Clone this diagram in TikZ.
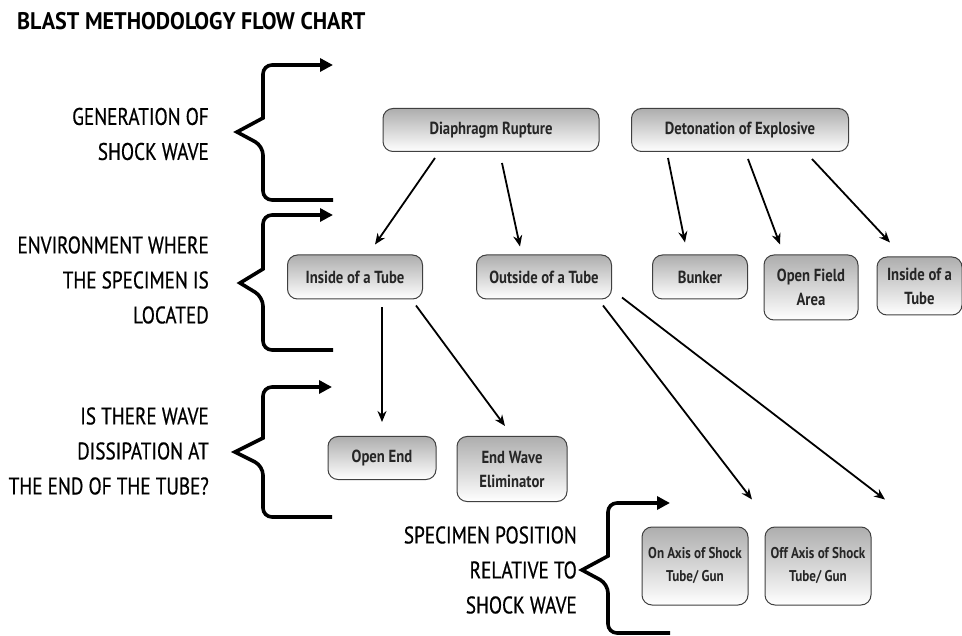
\documentclass[tikz,border=0pt]{standalone}
\usepackage{fontspec}
\setmainfont{PT Sans}
\newfontfamily\condfont[FakeStretch=0.8,FakeBold=0.6]{PT Sans}
\newfontfamily\boxfont[FakeStretch=0.84]{PT Sans Bold}
\newfontfamily\titlefont[FakeStretch=0.92]{PT Sans Bold}
\usetikzlibrary{arrows.meta}

\tikzset{
  box/.style={draw=black!75, line width=1pt, rounded corners=10pt,
    top color=black!32, bottom color=white, inner sep=0pt, align=center,
    text=black!85, font=\boxfont\fontsize{17.5}{24}\selectfont},
  smallbox/.style={box, font=\boxfont\fontsize{15.6}{23}\selectfont},
  flow/.style={line width=1.8pt, -{Stealth[length=11pt,width=9pt]}},
  brace/.style={line width=3.6pt, line join=miter,
    -{Triangle[length=13pt,width=13pt]}},
  label/.style={anchor=east, align=right, inner sep=0pt,
    font=\condfont\fontsize{24}{35}\selectfont}
}

\begin{document}
\begin{tikzpicture}[x=1pt,y=-1pt]
\useasboundingbox (0,0) rectangle (962,636);

% title
\node[anchor=base west, inner sep=0pt, font=\titlefont\fontsize{24}{28}\selectfont]
  (title) at (17,30) {BLAST METHODOLOGY FLOW CHART};

% stage labels
\node[label] (l1) at (209,134) {GENERATION OF\\SHOCK WAVE};
\node[label] (l2) at (209,280) {ENVIRONMENT WHERE\\THE SPECIMEN IS\\LOCATED};
\node[label] (l3) at (209,451) {IS THERE WAVE\\DISSIPATION AT\\THE END OF THE TUBE?};
\node[label] (l4) at (577,570) {SPECIMEN POSITION\\RELATIVE TO\\SHOCK WAVE};

% stage braces
\draw[brace] (333,200) [rounded corners=9pt] -- (263,200) -- (263,146) [sharp corners] -- (237,132) -- (263,118) [rounded corners=9pt] -- (263,65) -- (333,65);
\draw[brace] (333,350) [rounded corners=9pt] -- (263,350) -- (263,297) [sharp corners] -- (240,283) -- (263,269) [rounded corners=9pt] -- (263,215) -- (333,215);
\draw[brace] (332,517) [rounded corners=9pt] -- (263,517) -- (263,466) [sharp corners] -- (235,452) -- (263,438) [rounded corners=9pt] -- (263,387) -- (332,387);
\draw[brace] (670,633) [rounded corners=9pt] -- (608,633) -- (608,584) [sharp corners] -- (582,570) -- (608,556) [rounded corners=9pt] -- (608,503) -- (670,503);

% level 1
\node[box, minimum width=216pt, minimum height=43pt] (dr) at (491,130) {Diaphragm Rupture};
\node[box, minimum width=217pt, minimum height=43pt] (de) at (740,130) {Detonation of Explosive};

% level 2
\node[box, minimum width=135pt, minimum height=44pt] (it) at (355,277) {Inside of a Tube};
\node[box, minimum width=135pt, minimum height=44pt] (ot) at (544,277) {Outside of a Tube};
\node[box, minimum width=95pt, minimum height=44pt] (bk) at (700,277) {Bunker};
\node[box, minimum width=94pt, minimum height=65pt] (of) at (811,287.5) {Open Field\\Area};
\node[box, minimum width=85pt, minimum height=58pt] (it2) at (919.5,286) {Inside of a\\Tube};

% level 3
\node[box, minimum width=108pt, minimum height=43pt] (oe) at (382,458) {Open End};
\node[box, minimum width=110pt, minimum height=65pt] (ew) at (512,469) {End Wave\\Eliminator};

% level 4
\node[smallbox, minimum width=106pt, minimum height=78pt] (on) at (695,566) {On Axis of Shock\\Tube/ Gun};
\node[smallbox, minimum width=106pt, minimum height=78pt] (off) at (818,566) {Off Axis of Shock\\Tube/ Gun};

% connectors
\draw[flow] ([xshift=-56pt,yshift=-6pt]dr.south) -- ([xshift=20pt,yshift=10pt]it.north);
\draw[flow] ([xshift=11pt,yshift=-11pt]dr.south) -- ([xshift=-24pt,yshift=8pt]ot.north);
\draw[flow] ([xshift=-72pt,yshift=-6pt]de.south) -- ([xshift=-15pt,yshift=12pt]bk.north);
\draw[flow] ([xshift=8pt,yshift=-7pt]de.south) -- ([xshift=-31pt,yshift=10pt]of.north);
\draw[flow] ([xshift=72pt,yshift=-7pt]de.south) -- ([xshift=-29.5pt,yshift=14pt]it2.north);
\draw[flow] ([xshift=27pt,yshift=-8pt]it.south) -- ([yshift=14pt]oe.north);
\draw[flow] ([xshift=61pt,yshift=-6pt]it.south) -- ([xshift=-7pt,yshift=10pt]ew.north);
\draw[flow] ([xshift=59pt,yshift=-6pt]ot.south) -- ([xshift=57pt,yshift=27pt]on.north);
\draw[flow] ([xshift=10pt,yshift=2pt]ot.south east) -- ([xshift=67pt,yshift=27pt]off.north);
\end{tikzpicture}
\end{document}
